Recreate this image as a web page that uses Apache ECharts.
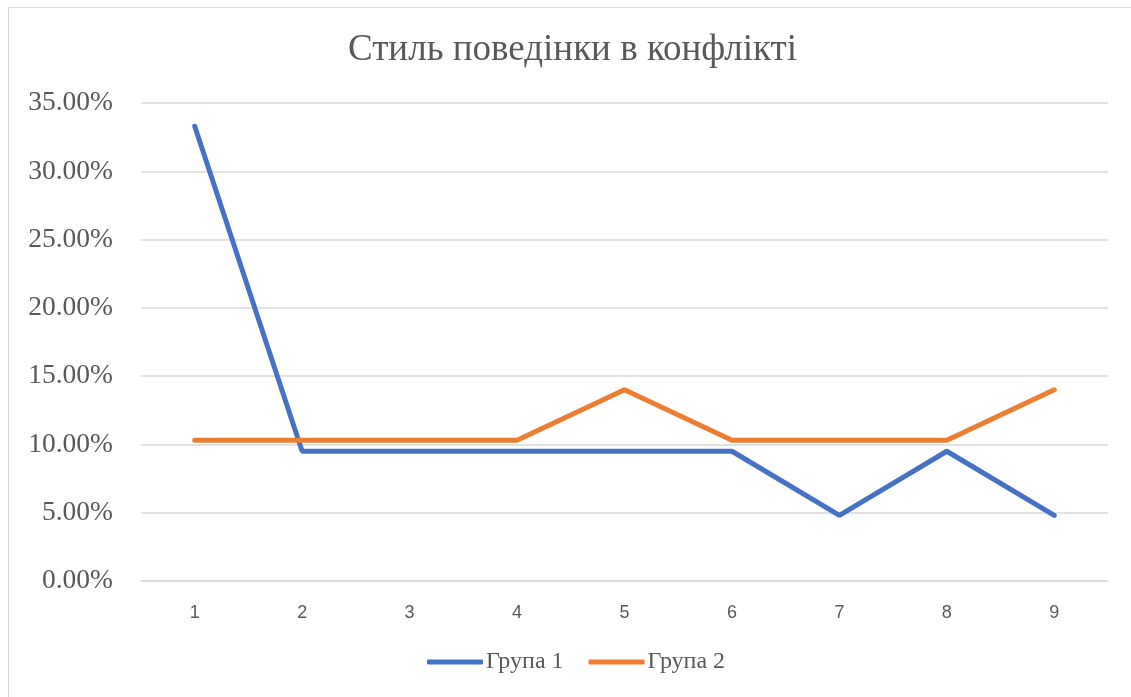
<!DOCTYPE html>
<html>
<head>
<meta charset="utf-8">
<title>Стиль поведінки в конфлікті</title>
<style>
    html, body{
        margin:0;
        padding:0;
        background:#fff;
    }
    #frame{
        position:absolute;
        left:8px;
        top:7px;
        width:1140px;
        height:710px;
        border:1px solid #d9d9d9;
        box-sizing:border-box;
    }
    #main{
        position:absolute;
        left:0;
        top:0;
        width:1131px;
        height:697px;
    }
</style>
</head>
<body>
<div id="frame"></div>
<div id="main"></div>
<script src="https://cdn.jsdelivr.net/npm/echarts@6/dist/echarts.min.js"></script>
<script type="text/javascript">
    // дані з графіка (у відсотках)
    var categories = ['1', '2', '3', '4', '5', '6', '7', '8', '9'];
    var group1 = [33.3, 9.5, 9.5, 9.5, 9.5, 9.5, 4.8, 9.5, 4.8];
    var group2 = [10.3, 10.3, 10.3, 10.3, 14.0, 10.3, 10.3, 10.3, 14.0];
    var seriesNames = ['Група 1', 'Група 2'];
    var colors = ['#4472C4', '#ED7D31'];

    var serif = '"Liberation Serif", "DejaVu Serif", serif';
    var myChart = echarts.init(document.getElementById('main'), null, {renderer: 'canvas'});

    var option = {
        backgroundColor: 'transparent',
        animation: false,
        title: {
            text: 'Стиль поведінки в конфлікті',
            left: 343,
            top: 27,
            textStyle: {
                fontFamily: serif,
                fontSize: 37,
                fontWeight: 'normal',
                color: '#595959'
            }
        },
        legend: {
            data: seriesNames,
            bottom: 18,
            left: 422,
            itemWidth: 56,
            itemHeight: 5,
            itemGap: 25,
            icon: 'roundRect',
            textStyle: {
                fontFamily: serif,
                fontSize: 24,
                color: '#595959',
                padding: [0, 0, 0, -2]
            }
        },
        grid: {
            left: 141,
            right: 23,
            top: 103,
            bottom: 116,
            containLabel: false
        },
        xAxis: {
            type: 'category',
            data: categories,
            boundaryGap: true,
            axisLine: {
                lineStyle: {color: '#d9d9d9', width: 1.5}
            },
            axisTick: {show: false},
            axisLabel: {
                margin: 23,
                fontFamily: '"Liberation Sans", "Open Sans", sans-serif',
                fontSize: 18,
                color: '#595959'
            }
        },
        yAxis: {
            type: 'value',
            min: 0,
            max: 35,
            interval: 5,
            axisLine: {show: false},
            axisTick: {show: false},
            splitLine: {
                lineStyle: {color: '#d9d9d9', width: 1.5}
            },
            axisLabel: {
                margin: 28,
                fontFamily: serif,
                fontSize: 27.5,
                color: '#595959',
                formatter: function (v) {
                    return v.toFixed(2) + '%';
                }
            }
        },
        series: [
            {
                name: seriesNames[0],
                type: 'line',
                data: group1,
                color: colors[0],
                symbol: 'none',
                lineStyle: {width: 5, cap: 'round'}
            },
            {
                name: seriesNames[1],
                type: 'line',
                data: group2,
                color: colors[1],
                symbol: 'none',
                lineStyle: {width: 5, cap: 'round'}
            }
        ]
    };
    myChart.setOption(option, true);
</script>
</body>
</html>
